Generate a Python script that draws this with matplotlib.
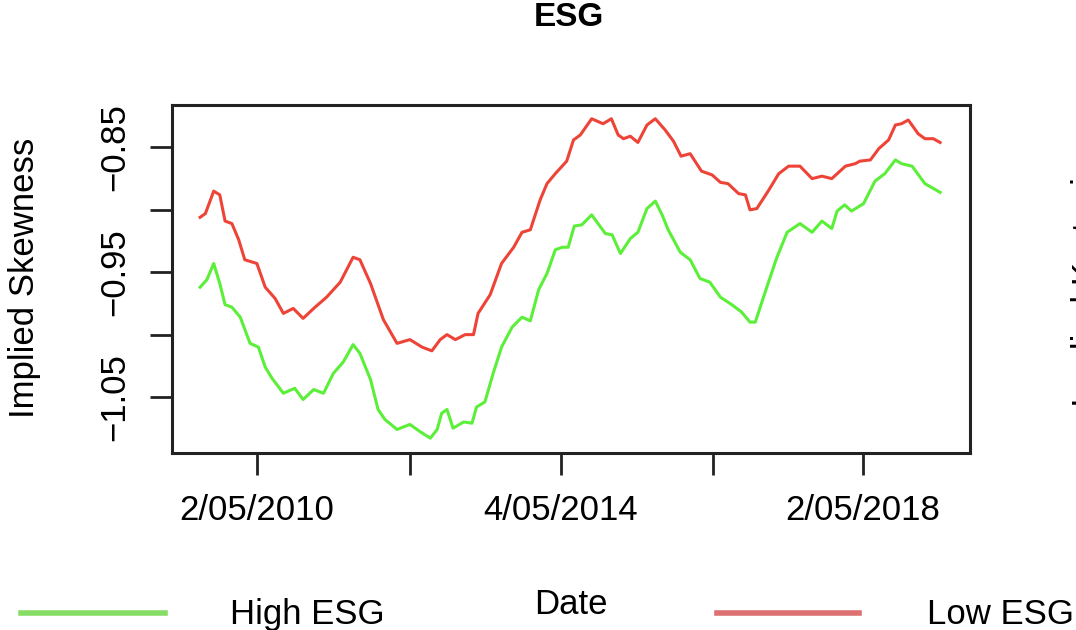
import matplotlib
matplotlib.use("Agg")
import matplotlib.pyplot as plt
from matplotlib.lines import Line2D

plt.rcParams['font.family'] = ['Liberation Sans', 'DejaVu Sans']

# decimal years and implied skewness
low_t = [2009.58, 2009.65, 2009.76, 2009.84, 2009.91, 2010.00, 2010.09, 2010.17, 2010.33, 2010.44,
         2010.57, 2010.68, 2010.81, 2010.94, 2011.08, 2011.25, 2011.43, 2011.60, 2011.69, 2011.83,
         2012.00, 2012.18, 2012.35, 2012.51, 2012.64, 2012.75, 2012.84, 2012.95, 2013.08, 2013.19,
         2013.25, 2013.41, 2013.56, 2013.72, 2013.83, 2013.94, 2014.07, 2014.16, 2014.27, 2014.42,
         2014.51, 2014.60, 2014.75, 2014.90, 2015.01, 2015.10, 2015.17, 2015.26, 2015.36, 2015.48,
         2015.59, 2015.72, 2015.83, 2015.93, 2016.05, 2016.20, 2016.34, 2016.45, 2016.55, 2016.69,
         2016.78, 2016.84, 2016.93, 2017.08, 2017.22, 2017.35, 2017.50, 2017.66, 2017.79, 2017.92,
         2018.10, 2018.23, 2018.29, 2018.43, 2018.54, 2018.67, 2018.76, 2018.84, 2018.93, 2019.06,
         2019.15, 2019.26, 2019.35]
low_esg = [-0.906, -0.903, -0.885, -0.888, -0.909, -0.911, -0.924, -0.940, -0.943, -0.962,
           -0.971, -0.983, -0.979, -0.987, -0.979, -0.970, -0.958, -0.938, -0.940, -0.959,
           -0.988, -1.007, -1.004, -1.010, -1.013, -1.004, -1.000, -1.004, -1.000, -1.000,
           -0.983, -0.968, -0.943, -0.930, -0.918, -0.916, -0.892, -0.879, -0.871, -0.861,
           -0.844, -0.840, -0.827, -0.831, -0.827, -0.840, -0.843, -0.841, -0.846, -0.832,
           -0.827, -0.836, -0.845, -0.857, -0.855, -0.869, -0.872, -0.878, -0.879, -0.887,
           -0.888, -0.900, -0.899, -0.885, -0.871, -0.865, -0.865, -0.875, -0.873, -0.875,
           -0.865, -0.863, -0.861, -0.860, -0.851, -0.844, -0.832, -0.831, -0.828, -0.839,
           -0.843, -0.843, -0.846]

high_t = [2009.58, 2009.67, 2009.76, 2009.84, 2009.91, 2010.00, 2010.11, 2010.24, 2010.35, 2010.44,
          2010.53, 2010.68, 2010.83, 2010.94, 2011.08, 2011.21, 2011.34, 2011.47, 2011.60, 2011.69,
          2011.83, 2011.93, 2012.02, 2012.18, 2012.35, 2012.49, 2012.62, 2012.71, 2012.77, 2012.84,
          2012.92, 2013.06, 2013.17, 2013.23, 2013.34, 2013.45, 2013.56, 2013.70, 2013.83, 2013.94,
          2014.05, 2014.16, 2014.27, 2014.36, 2014.44, 2014.52, 2014.62, 2014.75, 2014.93, 2015.02,
          2015.13, 2015.26, 2015.36, 2015.48, 2015.59, 2015.68, 2015.76, 2015.92, 2016.05, 2016.18,
          2016.31, 2016.45, 2016.60, 2016.73, 2016.84, 2016.91, 2017.04, 2017.19, 2017.33, 2017.50,
          2017.66, 2017.79, 2017.92, 2017.99, 2018.09, 2018.18, 2018.34, 2018.49, 2018.62, 2018.76,
          2018.84, 2018.98, 2019.15, 2019.35]
high_esg = [-0.962, -0.956, -0.943, -0.959, -0.976, -0.978, -0.986, -1.007, -1.010, -1.026,
            -1.035, -1.047, -1.043, -1.052, -1.044, -1.047, -1.031, -1.022, -1.008, -1.015,
            -1.036, -1.060, -1.068, -1.076, -1.072, -1.078, -1.083, -1.076, -1.063, -1.060,
            -1.075, -1.070, -1.071, -1.058, -1.054, -1.031, -1.010, -0.994, -0.986, -0.989,
            -0.964, -0.951, -0.932, -0.930, -0.930, -0.913, -0.912, -0.904, -0.919, -0.920,
            -0.935, -0.923, -0.918, -0.899, -0.893, -0.904, -0.916, -0.934, -0.940, -0.955,
            -0.958, -0.970, -0.976, -0.982, -0.990, -0.990, -0.966, -0.939, -0.918, -0.911,
            -0.918, -0.909, -0.915, -0.901, -0.896, -0.901, -0.895, -0.877, -0.871, -0.860,
            -0.863, -0.865, -0.879, -0.886]

x_ticks = [2010.333, 2012.35, 2014.34, 2016.35, 2018.33]
x_labels = ['2/05/2010', '', '4/05/2014', '', '2/05/2018']
y_ticks = [-0.85, -0.90, -0.95, -1.00, -1.05]
y_labels = ['\u22120.85', '', '\u22120.95', '', '\u22121.05']

red = '#EE4438'
green = '#5CEF3A'

fig = plt.figure(figsize=(10.76, 6.3), dpi=100)
ax = fig.add_axes([0.1599, 0.2817, 0.7416, 0.5516])

ax.plot(low_t, low_esg, color=red, lw=2.2)
ax.plot(high_t, high_esg, color=green, lw=2.2)

ax.set_xlim(2009.21, 2019.745)
ax.set_ylim(-1.0945, -0.816)

ax.set_xticks(x_ticks)
ax.set_xticklabels(x_labels)
ax.set_yticks(y_ticks)
ax.set_yticklabels(y_labels, rotation=90, va='center')
ax.tick_params(direction='out', length=15.5, width=2.0, labelsize=25, pad=14, color='#222222')

for s in ax.spines.values():
    s.set_linewidth(2.2)
    s.set_color('#222222')

fig.text(569 / 1076, 1 - 18 / 630, 'ESG', fontsize=24, fontweight='bold', ha='center', va='center')
fig.text(25 / 1076, 1 - 278 / 630, 'Implied Skewness', fontsize=25, rotation=90, ha='center', va='center')
fig.text(571 / 1076, 1 - 614 / 630, 'Date', fontsize=25, ha='center', va='baseline')

# partly visible label of the neighbouring panel
fig.text(1088 / 1076, 1 - 283 / 630, 'Implied Kurtosis', fontsize=25, rotation=90, ha='center', va='center')

# legend row
fig.add_artist(Line2D([21 / 1076, 165 / 1076], [1 - 613 / 630] * 2, color='#86DD66', lw=4))
fig.text(230 / 1076, 1 - 624 / 630, 'High ESG', fontsize=25, ha='left', va='baseline')
fig.add_artist(Line2D([717 / 1076, 859 / 1076], [1 - 613 / 630] * 2, color='#DD7070', lw=4))
fig.text(927 / 1076, 1 - 624 / 630, 'Low ESG', fontsize=25, ha='left', va='baseline')

fig.savefig('out.png', dpi=100, facecolor='white')
